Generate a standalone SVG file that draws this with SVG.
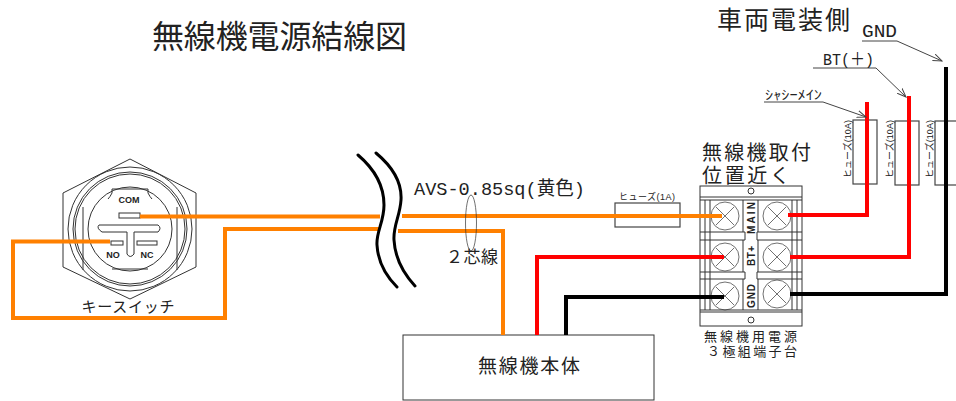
<svg xmlns="http://www.w3.org/2000/svg" width="956" height="401" viewBox="0 0 956 401">
<style>
text{font-family:"Liberation Sans","Noto Sans CJK JP",sans-serif;fill:#222}
.n{font-family:"Liberation Mono","Noto Sans CJK JP",monospace}
.b{font-family:"Liberation Sans",sans-serif;font-weight:bold}
.t{fill:none;stroke:#333;stroke-width:1}
.s{fill:none;stroke:#333;stroke-width:.7}
.f{fill:none;stroke:#444;stroke-width:1.2}
.w{fill:none;stroke-linejoin:miter}
.o{stroke:#ff8000;stroke-width:4}
.r{stroke:#ff0000;stroke-width:4}
.k{stroke:#000;stroke-width:4}
.br{fill:none;stroke:#000;stroke-width:3;stroke-linecap:round}
.l{fill:none;stroke:#444;stroke-width:1}
</style>
<defs>
<marker id="a" markerWidth="10" markerHeight="8" refX="9" refY="4" orient="auto" markerUnits="userSpaceOnUse"><path d="M0 0.5L9 4L0 7.5" fill="none" stroke="#444"/></marker>
</defs>
<g id="titles">
<text x="152" y="48" font-size="32" textLength="255">無線機電源結線図</text>
<text x="717" y="29" font-size="25" textLength="133">車両電装側</text>
</g>
<g id="key-switch">
<path class="t" d="M130 159L196 193V267L130 299L63 267V193Z"/>
<circle class="t" cx="130" cy="229" r="62"/>
<circle class="t" cx="130" cy="229" r="57"/>
<circle class="t" cx="130" cy="229" r="55"/>
<circle class="t" cx="130" cy="229" r="42"/>
<path class="t" d="M83 207V270M177 207V270" stroke-width="1.500"/>
<path class="t" d="M112 189H148V193Q150 197 152 199M112 189V193Q110 197 108 199M112 269H148M99 225H158Q162 228 158 232H134V254Q130 259 127 254V232H102Q96 228 99 225Z"/>
<rect class="t" x="119" y="213" width="21" height="5"/>
<rect class="t" x="111" y="241" width="12" height="4"/>
<rect class="t" x="137" y="241" width="20" height="4"/>
<text class="b" x="129" y="203" font-size="9" text-anchor="middle">COM</text>
<text class="b" x="113" y="258" font-size="9" text-anchor="middle">NO</text>
<text class="b" x="147" y="258" font-size="9" text-anchor="middle">NC</text>
<text x="128" y="312" font-size="15" text-anchor="middle" textLength="93">キースイッチ</text>
</g>
<g id="fuse-1a">
<rect class="f" x="615" y="203" width="65" height="24"/>
<text x="619" y="200" font-size="9" textLength="56">ヒューズ(1A)</text>
</g>
<g id="fuse-main">
<rect class="f" x="853" y="120" width="24" height="64"/>
<text font-size="9" transform="translate(851 178) rotate(-90)" textLength="58">ヒューズ(10A)</text>
</g>
<g id="fuse-bt">
<rect class="f" x="895" y="121" width="24" height="64"/>
<text font-size="9" transform="translate(893 178) rotate(-90)" textLength="58">ヒューズ(10A)</text>
</g>
<g id="fuse-gnd">
<rect class="f" x="935" y="121" width="30" height="64"/>
<text font-size="9" transform="translate(933 178) rotate(-90)" textLength="58">ヒューズ(10A)</text>
</g>
<g id="terminal-block">
<text x="702" y="160" font-size="20" textLength="109">無線機取付</text>
<text x="702" y="183" font-size="20" textLength="88">位置近く</text>
<rect class="t" x="700" y="186" width="102" height="140"/>
<path class="t" d="M700 197H802M700 200H802M700 310H802M700 312H802M705 200V310M710 200V310M743 200V232M758 200V232M743 240V272M758 240V272M743 279V310M758 279V310M792 200V310M797 200V310"/>
<path class="t" d="M700 232H745V240H700M802 232H757V240H802M700 272H745V279H700M802 272H757V279H802"/>
<circle class="t" cx="751" cy="191" r="3"/>
<circle class="t" cx="751" cy="320" r="3"/>
<g id="screws" class="s">
<circle cx="725" cy="216" r="14"/><path d="M716 207L734 225M734 207L716 225"/>
<circle cx="725" cy="257" r="14"/><path d="M716 248L734 266M734 248L716 266"/>
<circle cx="725" cy="296" r="14"/><path d="M716 287L734 305M734 287L716 305"/>
<circle cx="777" cy="216" r="14"/><path d="M768 207L786 225M786 207L768 225"/>
<circle cx="777" cy="257" r="14"/><path d="M768 248L786 266M786 248L768 266"/>
<circle cx="777" cy="294" r="14"/><path d="M768 285L786 303M786 285L768 303"/>
</g>
<text class="b" font-size="10" transform="translate(755 234) rotate(-90)" textLength="32">MAIN</text>
<text class="b" font-size="10" transform="translate(755 266) rotate(-90)" textLength="20">BT+</text>
<text class="b" font-size="10" transform="translate(755 308) rotate(-90)" textLength="24">GND</text>
<text x="704" y="341" font-size="13" textLength="93">無線機用電源</text>
<text x="707" y="356" font-size="13" textLength="90">３極組端子台</text>
</g>
<g id="radio-unit">
<rect x="403" y="335" width="251" height="65" fill="#fff" stroke="#333"/>
<text x="478" y="373" font-size="19" textLength="102">無線機本体</text>
</g>
<g id="connectors">
<path class="w o" d="M140 216.500H380M402 216H722"/>
<path class="w o" d="M110 241.500H13V318H225V229H380M398 231H503V335"/>
<path class="w r" d="M537 335V257H724"/>
<path class="w k" d="M566 335V297H724"/>
<path class="w r" d="M867 102V215H788"/>
<path class="w r" d="M909 96V257H790"/>
<path class="w k" d="M946 67V294H790"/>
<path class="br" d="M358 155C378 172 384 190 384 205C384 222 376 232 377 245C378 262 386 276 397 287"/>
<path class="br" d="M376 153C394 168 402 184 401 200C400 216 393 226 394 240C395 258 404 274 415 286"/>
<ellipse class="s" cx="471" cy="223" rx="5.500" ry="28"/>
<path class="l" d="M862 41H897L942 61" marker-end="url(#a)"/>
<path class="l" d="M813 68H876L906 97" marker-end="url(#a)"/>
<path class="l" d="M764 102H823L866 117" marker-end="url(#a)"/>
</g>
<g id="labels">
<text class="n" x="414" y="195" font-size="19" textLength="171" lengthAdjust="spacingAndGlyphs">AVS-0.85sq(黄色)</text>
<text x="446" y="263" font-size="17" textLength="52">２芯線</text>
<text class="n" x="862" y="37" font-size="18" textLength="35" lengthAdjust="spacingAndGlyphs">GND</text>
<text class="n" x="823" y="65" font-size="17" textLength="51" lengthAdjust="spacingAndGlyphs">BT(＋)</text>
<text x="765" y="99" font-size="13" textLength="57" lengthAdjust="spacingAndGlyphs">ｼｬｼｰﾒｲﾝ</text>
</g>
</svg>
